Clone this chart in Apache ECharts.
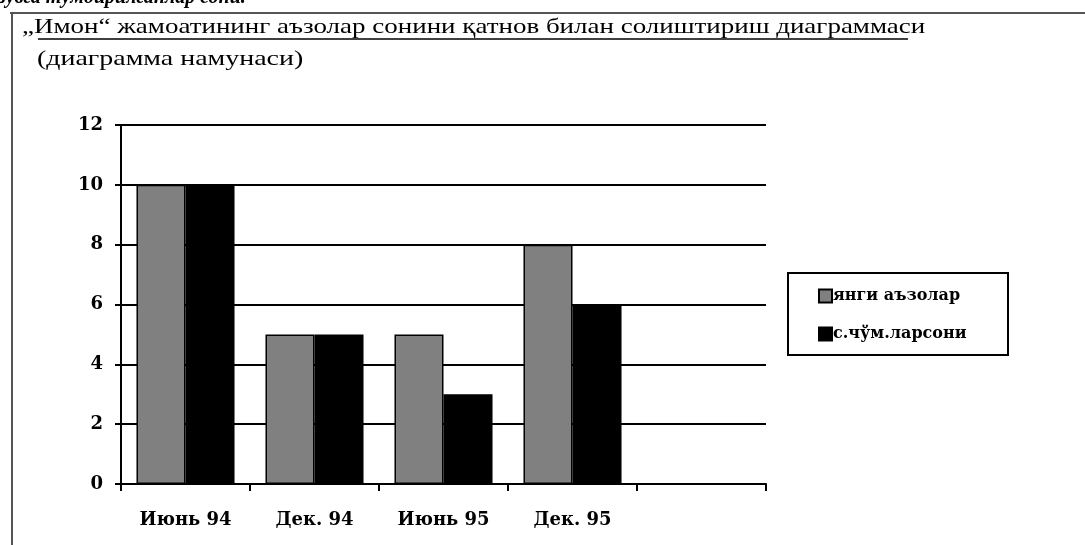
<!DOCTYPE html>
<html><head><meta charset="utf-8">
<script src="https://cdn.jsdelivr.net/npm/echarts@6/dist/echarts.min.js"></script>
<style>html,body{margin:0;padding:0;background:#fff}#c{width:1085px;height:545px}</style>
</head><body><div id="c"></div>
<script>
const categories = ['Июнь 94', 'Дек. 94', 'Июнь 95', 'Дек. 95', ''];
const newMembers = [10, 5, 5, 8];
const attendance = [10, 5, 3, 6];
const seriesNames = ['янги аъзолар', 'с.чўм.ларсони'];
const yTicks = [0, 2, 4, 6, 8, 10, 12];
const titleText = '„Имон“ жамоатининг аъзолар сонини қатнов билан солиштириш диаграммаси';
const subtitleText = '(диаграмма намунаси)';
const topText = 'зувга тўмдирилганлар сони.';

const serif = '"Liberation Serif", "DejaVu Serif", serif';
const wide = '"DejaVu Serif", "Liberation Serif", serif';
const chart = echarts.init(document.getElementById('c'));
chart.setOption({
  animation: false,
  backgroundColor: '#fff',
  grid: { left: 121, right: 319, top: 125, bottom: 61 },
  legend: {
    orient: 'vertical', left: 813, top: 283,
    itemWidth: 13, itemHeight: 13, itemGap: 22,
    icon: 'rect',
    textStyle: { fontFamily: wide, fontWeight: 'bold', fontSize: 16, color: '#000', padding: [0, 0, 0, -4] },
    data: seriesNames
  },
  xAxis: {
    type: 'category', data: categories,
    axisLine: { lineStyle: { color: '#000', width: 2 } },
    axisTick: { show: true, length: 7, lineStyle: { color: '#000', width: 2 } },
    axisLabel: { fontFamily: wide, fontWeight: 'bold', fontSize: 18, color: '#000', margin: 27 }
  },
  yAxis: {
    type: 'value', min: yTicks[0], max: yTicks[yTicks.length - 1], interval: 2,
    axisLine: { show: true, lineStyle: { color: '#000', width: 2 } },
    axisTick: { show: true, length: 6, lineStyle: { color: '#000', width: 2 } },
    splitLine: { lineStyle: { color: '#000', width: 2 } },
    axisLabel: { fontFamily: wide, fontWeight: 'bold', fontSize: 18, color: '#000', margin: 18 }
  },
  series: [
    { name: seriesNames[0], type: 'bar', data: newMembers, barGap: '0%', barCategoryGap: '24%',
      itemStyle: { color: '#808080', borderColor: '#000', borderWidth: 1.5 } },
    { name: seriesNames[1], type: 'bar', data: attendance, barGap: '0%', barCategoryGap: '24%',
      itemStyle: { color: '#000', borderColor: '#000', borderWidth: 1.5 } }
  ],
  graphic: [
    { type: 'text', x: -2, y: -12, style: { text: topText, font: 'italic bold 20px ' + serif, fill: '#000' } },
    { type: 'line', shape: { x1: 10, y1: 13, x2: 1085, y2: 13 }, style: { stroke: '#555', lineWidth: 2 } },
    { type: 'line', shape: { x1: 12, y1: 13, x2: 12, y2: 545 }, style: { stroke: '#555', lineWidth: 2 } },
    { type: 'text', x: 22, y: 17, scaleX: 1.285, style: { text: titleText, font: '21px ' + serif, fill: '#000' } },
    { type: 'line', shape: { x1: 38, y1: 39, x2: 908, y2: 39 }, style: { stroke: '#000', lineWidth: 1.5 } },
    { type: 'text', x: 37, y: 49, scaleX: 1.33, style: { text: subtitleText, font: '21px ' + serif, fill: '#000' } },
    { type: 'rect', shape: { x: 788, y: 273, width: 220, height: 82 }, style: { fill: 'none', stroke: '#000', lineWidth: 2 }, z: 10 }
  ]
});
</script></body></html>
